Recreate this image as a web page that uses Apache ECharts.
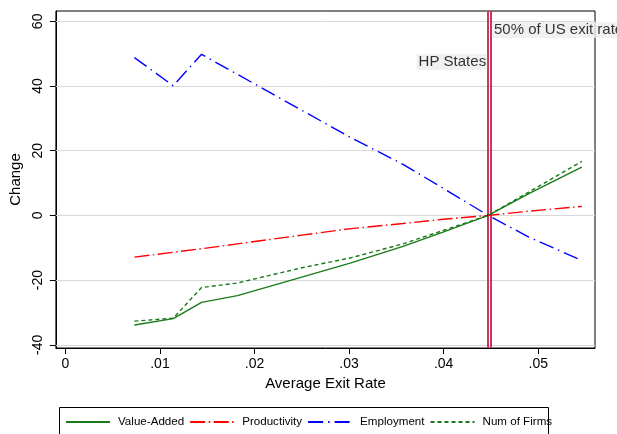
<!DOCTYPE html>
<html><head><meta charset="utf-8">
<script src="https://cdn.jsdelivr.net/npm/echarts@6/dist/echarts.min.js"></script>
<style>html,body{margin:0;padding:0;background:#fff}#c{width:617px;height:434px}</style>
</head><body><div id="c"></div>
<script>
const exitRate     = [0.0073, 0.0114, 0.0144, 0.0182, 0.0250, 0.0302, 0.0357, 0.0400, 0.0447, 0.0490, 0.0546];
const valueAdded   = [-33.9, -31.9, -26.9, -24.8, -19.1, -14.7, -9.6, -5.1, 0, 6.7, 14.9];
const productivity = [-12.9, -11.4, -10.3, -8.8, -6.1, -4.1, -2.5, -1.2, 0, 1.3, 2.8];
const employment   = [48.8, 40.1, 49.8, 43.6, 32.5, 24.0, 15.8, 8.3, 0, -6.7, -13.9];
const numFirms     = [-32.7, -31.8, -22.3, -20.9, -16.2, -13.1, -8.8, -4.6, 0, 7.2, 16.7];
const xTicks = [0, 0.01, 0.02, 0.03, 0.04, 0.05];
const xTickLabels = ['0', '.01', '.02', '.03', '.04', '.05'];
const yTicks = [-40, -20, 0, 20, 40, 60];
const yTickLabels = ['-40', '-20', '0', '20', '40', '60'];
const refLines = [0.0447, 0.0450];
const refLabels = ['HP States', '50% of US exit rate'];
const refLabelY = [47.5, 57.3];

const FONT = 'Liberation Sans, Arial, Helvetica, sans-serif';
function lookup(vals, labels, v) {
  for (let i = 0; i < vals.length; i++) if (Math.abs(vals[i] - v) < 1e-9) return labels[i];
  return '';
}
const pairs = arr => exitRate.map((x, i) => [x, arr[i]]);

const chart = echarts.init(document.getElementById('c'), null, {renderer: 'canvas'});
chart.setOption({
  animation: false,
  backgroundColor: '#fff',
  textStyle: {fontFamily: FONT, color: '#000'},
  grid: {left: 54, right: 22, top: 11, bottom: 86, show: true, borderColor: '#000', borderWidth: 1, backgroundColor: 'transparent'},
  xAxis: {
    type: 'value', min: -0.001, max: 0.056,
    name: 'Average Exit Rate', nameLocation: 'middle', nameGap: 26,
    nameTextStyle: {fontSize: 15, color: '#000', fontFamily: FONT},
    axisLine: {show: true, onZero: false, lineStyle: {color: '#000', width: 1}},
    axisTick: {show: true, customValues: xTicks, length: 6, lineStyle: {color: '#000'}},
    axisLabel: {customValues: xTicks, fontSize: 14, color: '#000', margin: 9, fontFamily: FONT,
      formatter: v => lookup(xTicks, xTickLabels, v)},
    splitLine: {show: false}
  },
  yAxis: {
    type: 'value', min: -41, max: 63.2,
    name: 'Change', nameLocation: 'middle', nameGap: 28, nameRotate: 90,
    nameTextStyle: {fontSize: 15, color: '#000', fontFamily: FONT},
    axisLine: {show: true, onZero: false, lineStyle: {color: '#000', width: 1}},
    axisTick: {show: true, customValues: yTicks, length: 6, lineStyle: {color: '#000'}},
    axisLabel: {customValues: yTicks, fontSize: 14, color: '#000', rotate: 90, margin: 11, fontFamily: FONT,
      formatter: v => lookup(yTicks, yTickLabels, v)},
    splitLine: {show: false}
  },
  legend: {
    data: ['Value-Added', 'Productivity', 'Employment', 'Num of Firms'],
    left: 65, top: 416, padding: 0, itemWidth: 44, itemHeight: 12, itemGap: 5,
    itemStyle: {opacity: 0},
    textStyle: {fontSize: 11.6, color: '#000', fontFamily: FONT, padding: [0, 0, 0, 3]}
  },
  graphic: [{type: 'rect', shape: {x: 59.5, y: 407.5, width: 489, height: 40}, style: {fill: 'none', stroke: '#000', lineWidth: 1}, z: -1, silent: true}],
  series: [
    {name: '_grid', type: 'line', data: [], silent: true, z: 1,
      markLine: {silent: true, precision: 6, symbol: ['none', 'none'], label: {show: false},
        lineStyle: {color: '#d8d8d8', type: 'solid', width: 1},
        data: yTicks.map(v => ({yAxis: v}))}},
    {name: '_ref', type: 'line', data: [], silent: true, z: 2,
      markLine: {silent: true, precision: 6, symbol: ['none', 'none'], label: {show: false},
        lineStyle: {color: '#c8385a', type: 'solid', width: 2},
        data: refLines.map(v => ({xAxis: v}))}},
    {name: 'Value-Added', type: 'line', data: pairs(valueAdded), symbol: 'none', showSymbol: false, z: 5,
      lineStyle: {color: '#1a7a1a', width: 1.4, type: 'solid'}, itemStyle: {color: '#1a7a1a'}},
    {name: 'Productivity', type: 'line', data: pairs(productivity), symbol: 'none', showSymbol: false, z: 5,
      lineStyle: {color: '#ff0000', width: 1.4, type: [15, 3.5, 1.5, 3.5]}, itemStyle: {color: '#ff0000'}},
    {name: 'Employment', type: 'line', data: pairs(employment), symbol: 'none', showSymbol: false, z: 5,
      lineStyle: {color: '#0000ff', width: 1.4, type: [15, 5, 1.5, 5]}, itemStyle: {color: '#0000ff'}},
    {name: 'Num of Firms', type: 'line', data: pairs(numFirms), symbol: 'none', showSymbol: false, z: 5,
      lineStyle: {color: '#1a7a1a', width: 1.4, type: [4, 3]}, itemStyle: {color: '#1a7a1a'}},
    {name: '_labels', type: 'scatter', symbolSize: 0, silent: true, z: 6,
      data: refLines.map((x, i) => ({
        value: [x, refLabelY[i]], name: refLabels[i],
        label: {position: i === 0 ? 'left' : 'right'}
      })),
      label: {show: true, formatter: p => p.name, fontSize: 15, color: '#000', fontFamily: FONT,
        backgroundColor: '#eeeeee', padding: [1, 1, 0, 2], distance: 1}}
  ]
});
</script></body></html>
